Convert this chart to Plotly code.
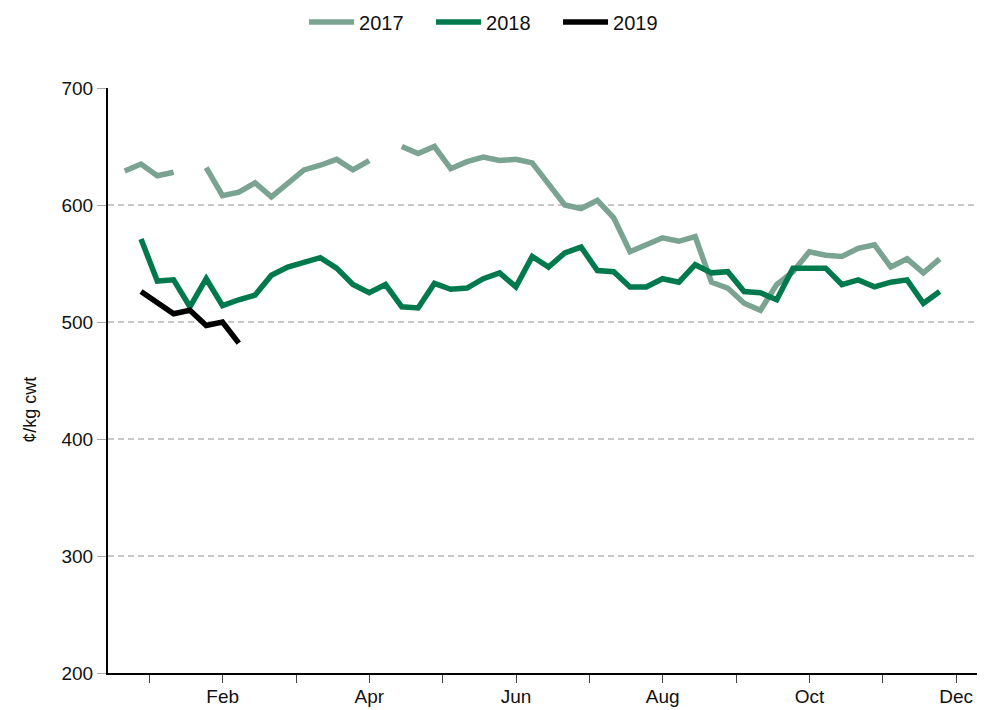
import plotly.graph_objects as go

# Week index (x) for each series
weeks_2017 = list(range(0, 51))
values_2017 = [629, 635, 625, 628, None, 632, 608, 611, 619, 607, 618, 630, 634, 639, 630, 638,
               None, 650, 644, 650, 631, 637, 641, 638, 639, 636, 618, 600, 597, 604, 589, 560,
               566, 572, 569, 573, 534, 529, 516, 510, 532, 543, 560, 557, 556, 563, 566, 547,
               554, 542, 554]

weeks_2018 = list(range(1, 51))
values_2018 = [571, 535, 536, 513, 537, 514, 519, 523, 540, 547, 551, 555, 546, 532, 525, 532,
               513, 512, 533, 528, 529, 537, 542, 530, 556, 547, 559, 564, 544, 543, 530, 530,
               537, 534, 549, 542, 543, 526, 525, 519, 546, 546, 546, 532, 536, 530, 534, 536,
               516, 526]

weeks_2019 = list(range(1, 8))
values_2019 = [526, 516, 507, 510, 497, 500, 482]

month_labels = ["", "Feb", "", "Apr", "", "Jun", "", "Aug", "", "Oct", "", "Dec"]
month_ticks = [1.51 + 4.5 * m for m in range(12)]

y_ticks = [200, 300, 400, 500, 600, 700]

FONT = "Liberation Sans, Arial, sans-serif"

fig = go.Figure()
fig.add_trace(go.Scatter(x=weeks_2017, y=values_2017, mode="lines", name="2017",
                         line=dict(color="rgb(122,163,146)", width=5.5), connectgaps=False))
fig.add_trace(go.Scatter(x=weeks_2018, y=values_2018, mode="lines", name="2018",
                         line=dict(color="rgb(0,122,77)", width=5.5)))
fig.add_trace(go.Scatter(x=weeks_2019, y=values_2019, mode="lines", name="2019",
                         line=dict(color="black", width=5.5)))

fig.add_annotation(text="¢/kg cwt", xref="paper", yref="paper",
                   x=-0.089, y=0.45, textangle=-90, showarrow=False,
                   xanchor="center", yanchor="middle", font=dict(size=18))

fig.update_layout(
    width=977, height=702,
    margin=dict(l=100, r=0, t=80, b=37),
    plot_bgcolor="white", paper_bgcolor="white",
    font=dict(family=FONT, size=19, color="#111"),
    showlegend=True,
    legend=dict(orientation="h", xref="container", yref="container",
                x=0.303, xanchor="left", y=0.980, yanchor="middle",
                font=dict(size=20), itemwidth=45, entrywidth=67,
                traceorder="normal"),
    xaxis=dict(range=[-1.025, 52.78], tickmode="array", tickvals=month_ticks,
               ticktext=month_labels, showgrid=False, zeroline=False,
               showline=True, linecolor="black", linewidth=2,
               ticks="outside", ticklen=8, tickwidth=1, tickcolor="#444",
               ticklabelstandoff=-3),
    yaxis=dict(range=[200, 700], tickmode="array", tickvals=y_ticks,
               showgrid=True, gridcolor="#c8c8c8", gridwidth=2, griddash="6px,4px",
               zeroline=False, showline=True, linecolor="black", linewidth=2,
               ticks="outside", ticklen=9, tickwidth=1, tickcolor="#aaa"),
)

fig.write_html("out.html")
